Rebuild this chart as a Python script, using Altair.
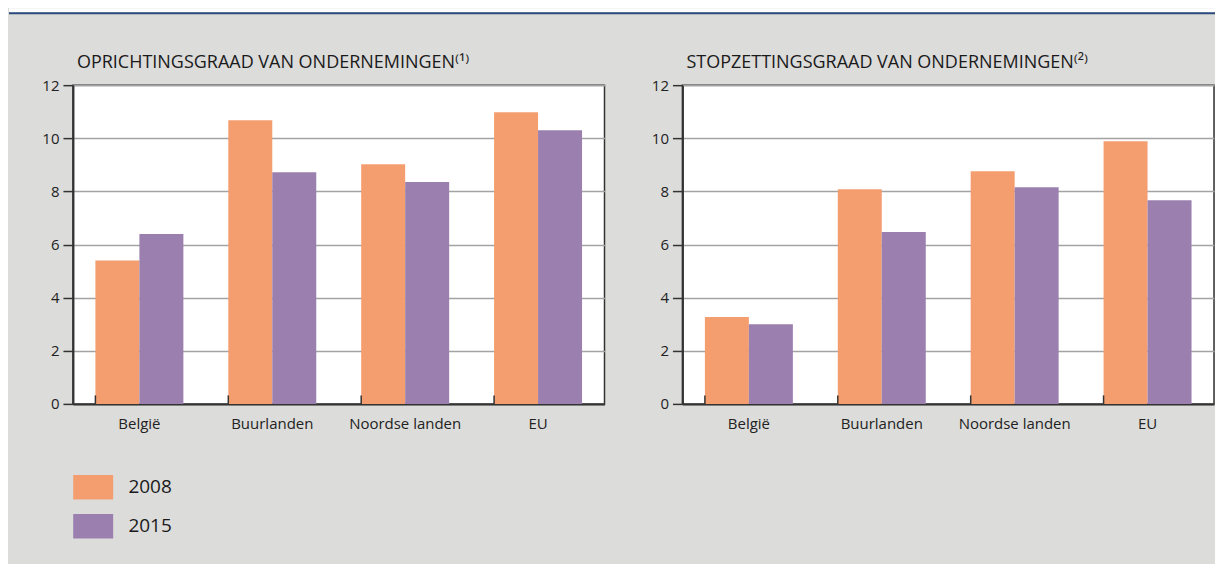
import altair as alt
import pandas as pd

categories = ["België", "Buurlanden", "Noordse landen", "EU"]
years = ["2008", "2015"]
oprichting_2008 = [5.4, 10.68, 9.02, 10.98]
oprichting_2015 = [6.4, 8.72, 8.35, 10.3]
stopzetting_2008 = [3.27, 8.08, 8.76, 9.89]
stopzetting_2015 = [3.0, 6.47, 8.16, 7.67]
y_ticks = [0, 2, 4, 6, 8, 10, 12]
titles = ["OPRICHTINGSGRAAD VAN ONDERNEMINGEN⁽¹⁾", "STOPZETTINGSGRAAD VAN ONDERNEMINGEN⁽²⁾"]

ORANGE = "#F49E70"
PURPLE = "#9B80AF"
BG = "#DCDCDA"
DARK = "#333333"
FONT = "Open Sans"


def make_df(v08, v15):
    rows = []
    for c, a, b in zip(categories, v08, v15):
        rows.append({"cat": c, "year": years[0], "value": a})
        rows.append({"cat": c, "year": years[1], "value": b})
    return pd.DataFrame(rows)


cat_df = pd.DataFrame({"cat": categories})

x_scale = alt.Scale(domain=categories, paddingInner=0.338, paddingOuter=0.169)


def panel(df, title):
    bars = alt.Chart(df).mark_bar().encode(
        x=alt.X("cat:N", sort=categories, scale=x_scale, title=None,
                axis=alt.Axis(labelAngle=0, ticks=False, labelPadding=13,
                              labelFontSize=15, labelColor="#222", labelFont=FONT,
                              domainColor=DARK, domainWidth=2)),
        xOffset=alt.XOffset("year:N", sort=years,
                            scale=alt.Scale(paddingInner=0, paddingOuter=0)),
        y=alt.Y("value:Q", scale=alt.Scale(domain=[0, 12], nice=False), title=None,
                axis=alt.Axis(values=y_ticks, tickSize=10, tickWidth=1.5, tickColor=DARK,
                              domainColor=DARK, domainWidth=2, labelFontSize=15,
                              labelColor="#222", labelFont=FONT, labelPadding=4,
                              grid=True, gridColor="#a3a3a3", gridWidth=1.5,
                              minExtent=64, maxExtent=64)),
        color=alt.Color("year:N", scale=alt.Scale(domain=years, range=[ORANGE, PURPLE]),
                        legend=alt.Legend(title=None, orient="none", legendX=7.75,
                                          legendY=467, direction="vertical",
                                          symbolType="M-1.633,-1H1.633V1H-1.633Z",
                                          symbolSize=600, symbolStrokeWidth=0,
                                          symbolOpacity=1, labelFontSize=19,
                                          labelFont=FONT, labelColor="#1a1a1a",
                                          labelOffset=22.75, rowPadding=14, padding=0)),
    )
    seps = alt.Chart(cat_df).mark_rule(color=DARK, strokeWidth=1.5).encode(
        x=alt.X("cat:N", sort=categories, scale=x_scale, bandPosition=0),
        y=alt.datum(0),
        y2=alt.datum(0.32),
    )
    return alt.layer(bars, seps).properties(
        width=532, height=319,
        title=alt.TitleParams(text=title, anchor="start", frame="group", fontSize=18,
                              font=FONT, fontWeight="normal", color="#1a1a1a", dx=4,
                              offset=6),
        view=alt.ViewBackground(fill="white", stroke=DARK, strokeWidth=1.5),
    )


left = panel(make_df(oprichting_2008, oprichting_2015), titles[0])
right = panel(make_df(stopzetting_2008, stopzetting_2015), titles[1])

hdr_df = pd.DataFrame({"a": [0]})
hdr_white = alt.Chart(hdr_df).mark_rect(color="white").encode(
    x=alt.value(-64), x2=alt.value(1143), y=alt.value(0), y2=alt.value(4)
)
hdr_line = alt.Chart(hdr_df).mark_rect(color="#2B4A7E").encode(
    x=alt.value(-64), x2=alt.value(1143), y=alt.value(4), y2=alt.value(6)
)
header = alt.layer(hdr_white, hdr_line).properties(
    width=1143, height=6,
    view=alt.ViewBackground(fillOpacity=0, strokeOpacity=0),
)

chart = alt.vconcat(
    header,
    alt.hconcat(left, right, spacing=12),
    spacing=39,
).properties(
    background=BG,
    padding={"left": 0, "top": 0, "right": 0, "bottom": 25},
)

chart.save("out.html", embed_options={"renderer": "svg", "actions": False})
